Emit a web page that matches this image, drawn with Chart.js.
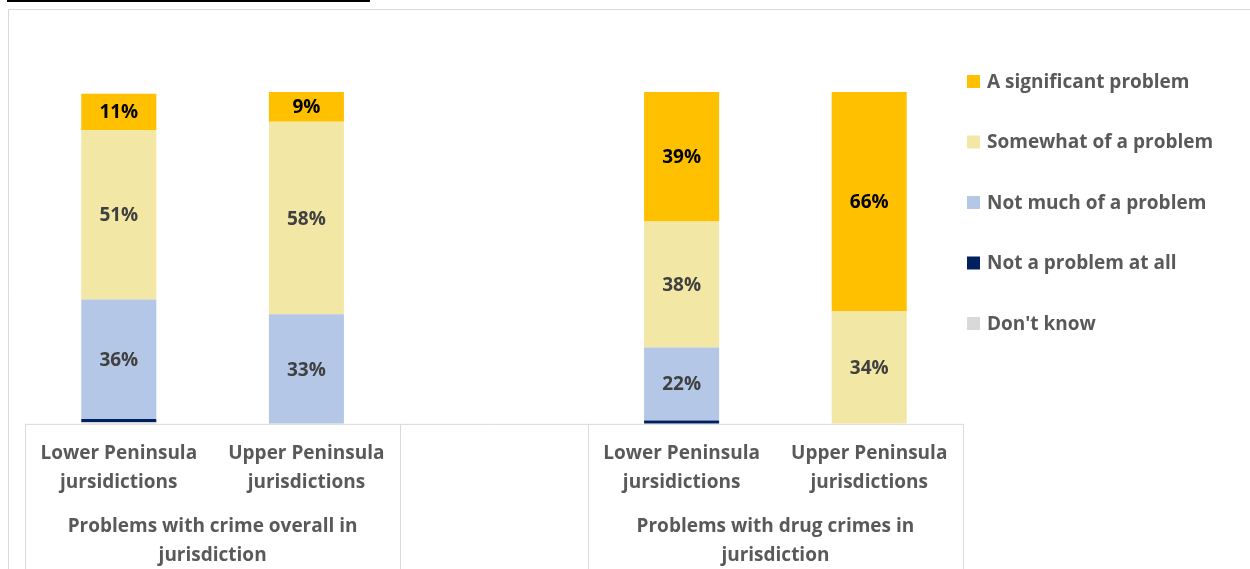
<!DOCTYPE html>
<html>
<head>
<meta charset="utf-8">
<script src="https://cdn.jsdelivr.net/npm/chart.js@4"></script>
<style>
  html, body { margin: 0; padding: 0; background: #fff; }
  #wrap { position: relative; width: 1250px; height: 569px; overflow: hidden; }
  #topline { position: absolute; left: 7px; top: 0; width: 363px; height: 2px; background: #000; }
</style>
</head>
<body>
<div id="wrap">
  <canvas id="chart_pb" width="1250" height="569"></canvas>
  <div id="topline"></div>
</div>
<script>
// categories (third slot is the empty gap between the two groups)
const categories = [
    ['Lower Peninsula', 'jursidictions'],
    ['Upper Peninsula', 'jurisdictions'],
    '',
    ['Lower Peninsula', 'jursidictions'],
    ['Upper Peninsula', 'jurisdictions']
];
const groups = [
    { label: ['Problems with crime overall in', 'jurisdiction'], from: 0, to: 1 },
    { label: ['Problems with drug crimes in', 'jurisdiction'], from: 3, to: 4 }
];

// series values (%), stacked from the bottom
const dont_know   = [0.5, 0, null, 0, 0];
const not_at_all  = [1, 0, null, 1, 0];
const not_much    = [36, 33, null, 22, 0];
const somewhat    = [51, 58, null, 38, 34];
const significant = [11, 9, null, 39, 66];

const textGrey = '#595959';
const fontFam = '"Open Sans", Lato, sans-serif';
const fontSize = 19;

// étiquettes de valeur au centre des segments
const valueLabels = {
    id: 'valueLabels',
    afterDatasetsDraw(chart) {
        const ctx = chart.ctx;
        ctx.save();
        ctx.font = 'bold ' + fontSize + 'px ' + fontFam;
        ctx.textAlign = 'center';
        ctx.textBaseline = 'middle';
        chart.data.datasets.forEach((ds, i) => {
            const meta = chart.getDatasetMeta(i);
            meta.data.forEach((bar, j) => {
                const v = ds.data[j];
                if (v == null || v < 5) return;
                ctx.fillStyle = ds.labelColor;
                ctx.fillText(Math.round(v) + '%', bar.x, (bar.y + bar.base) / 2 + 1);
            });
        });
        ctx.restore();
    }
};

// cadre, boîtes de l'axe x, libellés de groupe et légende
const decorations = {
    id: 'decorations',
    beforeDraw(chart) {
        const ctx = chart.ctx;
        ctx.save();
        ctx.strokeStyle = '#d9d9d9';
        ctx.lineWidth = 1;
        ctx.beginPath();
        ctx.moveTo(8.5, 600);
        ctx.lineTo(8.5, 9.5);
        ctx.lineTo(1260, 9.5);
        ctx.stroke();
        ctx.restore();
    },
    afterDraw(chart) {
        const ctx = chart.ctx;
        const x = chart.scales.x;
        const area = chart.chartArea;
        const half = (x.getPixelForValue(1) - x.getPixelForValue(0)) / 2;
        const bounds = [0, 2, 3, 5].map(i => Math.round(x.getPixelForValue(i) - half) + 0.5);
        ctx.save();
        ctx.strokeStyle = '#d9d9d9';
        ctx.lineWidth = 1;
        ctx.beginPath();
        ctx.moveTo(bounds[0], area.bottom + 0.5);
        ctx.lineTo(bounds[3], area.bottom + 0.5);
        bounds.forEach(b => {
            ctx.moveTo(b, area.bottom);
            ctx.lineTo(b, chart.height + 5);
        });
        ctx.stroke();

        ctx.fillStyle = textGrey;
        ctx.font = 'bold ' + fontSize + 'px ' + fontFam;
        ctx.textAlign = 'center';
        ctx.textBaseline = 'middle';
        groups.forEach(g => {
            const cx = (x.getPixelForValue(g.from) + x.getPixelForValue(g.to)) / 2;
            g.label.forEach((line, k) => ctx.fillText(line, cx, 527 + k * 29));
        });

        // légende
        const order = [4, 3, 2, 1, 0];
        ctx.textAlign = 'left';
        order.forEach((di, k) => {
            const ds = chart.data.datasets[di];
            const y = 81 + k * 60.5;
            ctx.fillStyle = ds.backgroundColor;
            ctx.fillRect(967, y - 6, 13, 13);
            ctx.fillStyle = textGrey;
            ctx.fillText(ds.label, 987, y + 1.5);
        });
        ctx.restore();
    }
};

const ctx_pb = document.getElementById('chart_pb').getContext('2d');
new Chart(ctx_pb, {
    type: 'bar',
    data: {
        labels: categories,
        datasets: [
            { label: "Don't know", data: dont_know, backgroundColor: '#d9d9d9', labelColor: '#404040' },
            { label: 'Not a problem at all', data: not_at_all, backgroundColor: '#002060', labelColor: '#ffffff' },
            { label: 'Not much of a problem', data: not_much, backgroundColor: '#b4c7e7', labelColor: '#404040' },
            { label: 'Somewhat of a problem', data: somewhat, backgroundColor: '#f2e7a4', labelColor: '#404040' },
            { label: 'A significant problem', data: significant, backgroundColor: '#ffc000', labelColor: '#000000' }
        ]
    },
    options: {
        responsive: false,
        animation: false,
        categoryPercentage: 1,
        barPercentage: 0.4,
        layout: { padding: { left: 25, right: 287, top: 92, bottom: 57 } },
        plugins: {
            legend: { display: false },
            tooltip: { enabled: false }
        },
        scales: {
            x: {
                stacked: true,
                grid: { display: false, drawTicks: false },
                border: { display: false },
                ticks: {
                    color: textGrey,
                    padding: 15,
                    maxRotation: 0,
                    autoSkip: false,
                    font: { family: fontFam, size: fontSize, weight: 'bold', lineHeight: 1.53 }
                }
            },
            y: {
                stacked: true,
                display: false,
                min: 0,
                max: 100
            }
        }
    },
    plugins: [valueLabels, decorations]
});
</script>
</body>
</html>
